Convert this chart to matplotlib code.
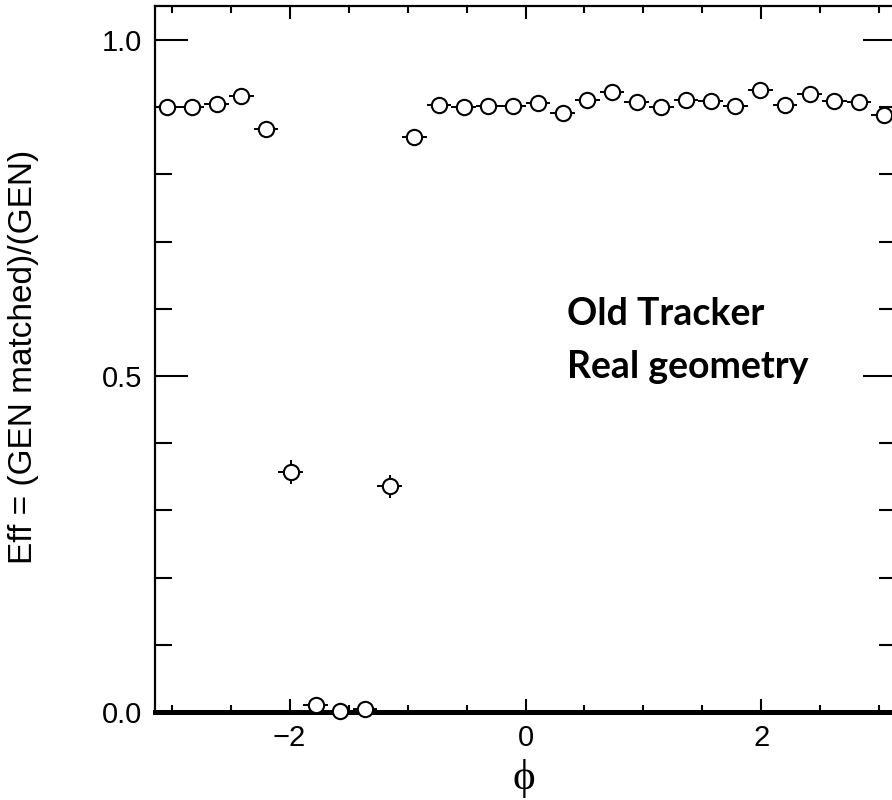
# -- coding: utf-8 --
import numpy as np
import matplotlib
matplotlib.use('Agg')
import matplotlib.pyplot as plt
from matplotlib.ticker import MultipleLocator

# phi 分 30 个 bin，范围 [-pi, pi]
n_bins = 30
phi_edges = np.linspace(-np.pi, np.pi, n_bins + 1)

# 每个 bin 的效率
eff = [0.900, 0.900, 0.905, 0.917, 0.867, 0.357, 0.010, 0.001, 0.005, 0.336,
       0.856, 0.904, 0.901, 0.902, 0.902, 0.906, 0.891, 0.911, 0.922, 0.907,
       0.901, 0.911, 0.909, 0.902, 0.925, 0.904, 0.919, 0.909, 0.907, 0.889]
# 效率的统计误差
eff_err = [0.008, 0.008, 0.008, 0.008, 0.009, 0.018, 0.004, 0.002, 0.003, 0.017,
           0.009, 0.008, 0.008, 0.008, 0.008, 0.008, 0.008, 0.008, 0.007, 0.008,
           0.008, 0.008, 0.008, 0.008, 0.007, 0.008, 0.007, 0.008, 0.008, 0.008]

phi_center = 0.5 * (phi_edges[:-1] + phi_edges[1:])
phi_halfwidth = 0.5 * (phi_edges[1:] - phi_edges[:-1])

fig = plt.figure(figsize=(8.92, 8.0), dpi=100)
# 右边框略超出画布
ax = fig.add_axes([155 / 892, 88 / 800, 741 / 892, 706 / 800])

ax.errorbar(phi_center, eff, xerr=phi_halfwidth, yerr=eff_err, fmt='o',
            color='black', ecolor='black', elinewidth=1.4, capsize=0,
            markersize=11, markerfacecolor='white', markeredgecolor='black',
            markeredgewidth=1.5, zorder=3, clip_on=False)

ax.set_xlim(-np.pi, np.pi)
ax.set_ylim(0, 1.0506)

# 坐标轴刻度
ax.xaxis.set_major_locator(MultipleLocator(2))
ax.xaxis.set_minor_locator(MultipleLocator(0.5))
ax.yaxis.set_major_locator(MultipleLocator(0.5))
ax.yaxis.set_minor_locator(MultipleLocator(0.1))
ax.tick_params(axis='both', which='both', direction='in', top=True, right=True,
               width=1.5, colors='black')
ax.tick_params(axis='x', which='major', length=9.5, pad=9)
ax.tick_params(axis='x', which='minor', length=5)
ax.tick_params(axis='y', which='major', length=24, pad=9)
ax.tick_params(axis='y', which='minor', length=12)
ax.yaxis.set_ticks([0.0, 0.5, 1.0])
ax.set_yticklabels(['0.0', '0.5', '1.0'])
for lab in ax.get_xticklabels() + ax.get_yticklabels():
    lab.set_fontfamily(['Liberation Sans', 'DejaVu Sans'])
    lab.set_fontsize(21)

for side in ['left', 'top', 'right']:
    ax.spines[side].set_linewidth(1.6)
ax.spines['bottom'].set_linewidth(3.6)

# 坐标轴标题
fig.text(24 / 892, 1 - 357 / 800, 'Eff = (GEN matched)/(GEN)', rotation=90,
         ha='center', va='center', fontsize=24,
         family=['Liberation Sans', 'DejaVu Sans'])
fig.text(524 / 892, 1 - 778 / 800, 'ϕ', ha='center', va='center', fontsize=31,
         family=['Liberation Serif', 'DejaVu Serif'])

# 标注
fig.text(567 / 892, 1 - 325 / 800, 'Old Tracker', ha='left', va='baseline',
         fontsize=27, fontweight='bold', family=['Lato', 'DejaVu Sans'])
fig.text(567 / 892, 1 - 378 / 800, 'Real geometry', ha='left', va='baseline',
         fontsize=27, fontweight='bold', family=['Lato', 'DejaVu Sans'])

plt.savefig('out.png', dpi=100)
